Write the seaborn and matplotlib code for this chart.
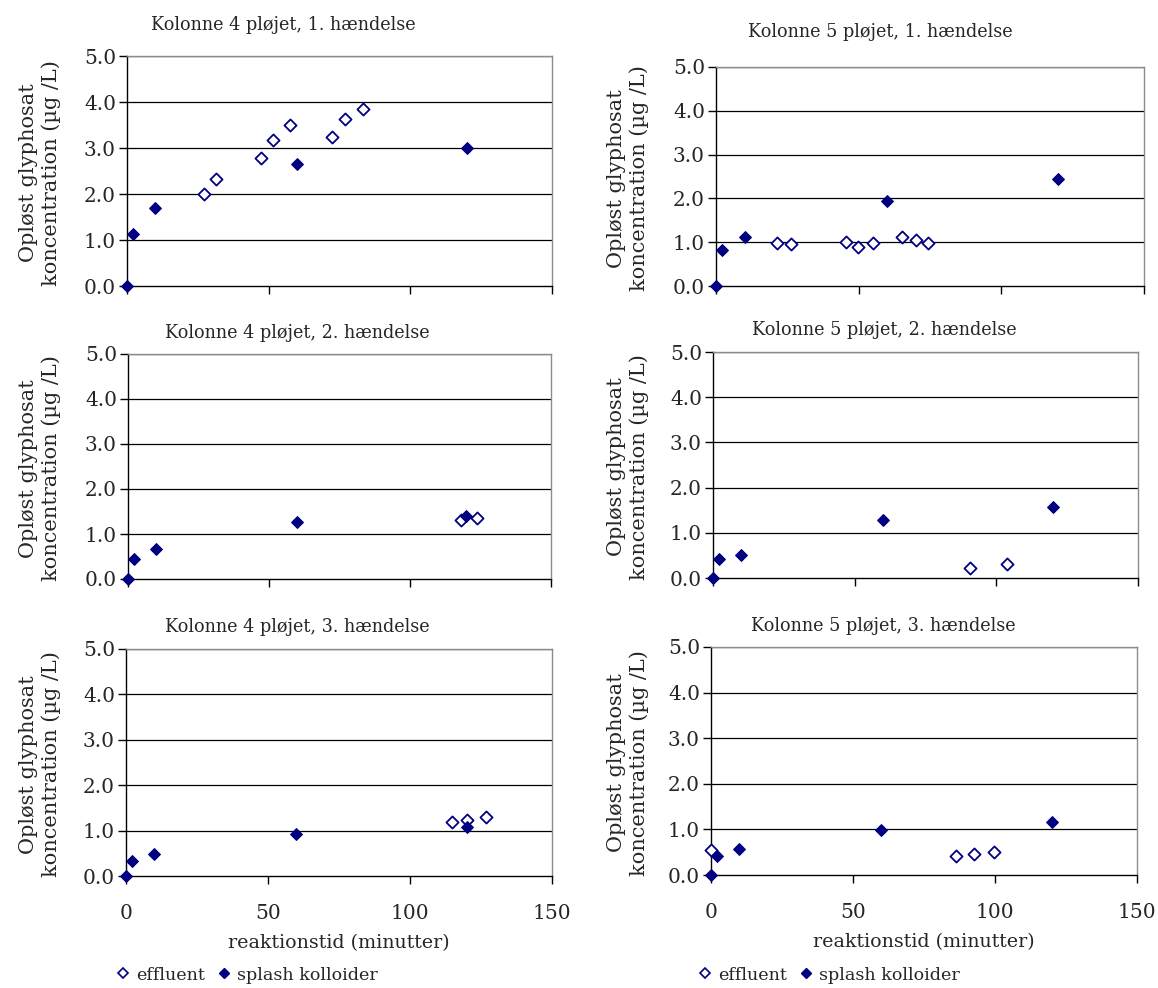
import matplotlib
matplotlib.use("Agg")
import matplotlib.pyplot as plt
from matplotlib.lines import Line2D
import numpy as np
import pandas as pd
import seaborn as sns

sns.set_style("white")
plt.rcParams["font.family"] = ["DejaVu Serif"]

NAVY = "#000080"

# --- data: reaction time (min) and dissolved glyphosate (µg/L) ---
k4_1_eff_t = [27.2, 31.5, 47.3, 51.7, 57.7, 72.4, 76.8, 83.3]
k4_1_eff_c = [1.99, 2.33, 2.78, 3.17, 3.51, 3.23, 3.63, 3.85]
k4_1_spl_t = [0, 2, 10, 60, 120]
k4_1_spl_c = [0.0, 1.14, 1.69, 2.66, 3.01]

k5_1_eff_t = [21.4, 26.3, 45.7, 49.6, 54.9, 65.2, 70.1, 74.4]
k5_1_eff_c = [0.99, 0.95, 1.01, 0.88, 0.99, 1.11, 1.06, 0.99]
k5_1_spl_t = [0, 2, 10, 60, 120]
k5_1_spl_c = [0.0, 0.83, 1.11, 1.94, 2.45]

k4_2_eff_t = [118.2, 123.8]
k4_2_eff_c = [1.31, 1.35]
k4_2_spl_t = [0, 2, 10, 60, 120]
k4_2_spl_c = [0.0, 0.45, 0.67, 1.26, 1.41]

k5_2_eff_t = [90.8, 103.6]
k5_2_eff_c = [0.23, 0.30]
k5_2_spl_t = [0, 2, 10, 60, 120]
k5_2_spl_c = [0.0, 0.41, 0.51, 1.28, 1.56]

k4_3_eff_t = [114.8, 120.2, 126.7]
k4_3_eff_c = [1.19, 1.23, 1.29]
k4_3_spl_t = [0, 2, 10, 60, 120]
k4_3_spl_c = [0.0, 0.34, 0.49, 0.92, 1.07]

k5_3_eff_t = [0, 86.4, 92.7, 99.5]
k5_3_eff_c = [0.55, 0.42, 0.46, 0.50]
k5_3_spl_t = [0, 2, 10, 60, 120]
k5_3_spl_c = [0.0, 0.42, 0.58, 0.98, 1.16]

titles = [
    "Kolonne 4 pløjet, 1. hændelse", "Kolonne 5 pløjet, 1. hændelse",
    "Kolonne 4 pløjet, 2. hændelse", "Kolonne 5 pløjet, 2. hændelse",
    "Kolonne 4 pløjet, 3. hændelse", "Kolonne 5 pløjet, 3. hændelse",
]
panels = [
    (k4_1_eff_t, k4_1_eff_c, k4_1_spl_t, k4_1_spl_c),
    (k5_1_eff_t, k5_1_eff_c, k5_1_spl_t, k5_1_spl_c),
    (k4_2_eff_t, k4_2_eff_c, k4_2_spl_t, k4_2_spl_c),
    (k5_2_eff_t, k5_2_eff_c, k5_2_spl_t, k5_2_spl_c),
    (k4_3_eff_t, k4_3_eff_c, k4_3_spl_t, k4_3_spl_c),
    (k5_3_eff_t, k5_3_eff_c, k5_3_spl_t, k5_3_spl_c),
]
x_ticks = [0, 50, 100, 150]
y_ticks = [0.0, 1.0, 2.0, 3.0, 4.0, 5.0]
y_label = "Opløst glyphosat\nkoncentration (µg /L)"
x_label = "reaktionstid (minutter)"
legend_labels = ["effluent", "splash kolloider"]

W, H = 1158, 988
fig = plt.figure(figsize=(W / 100, H / 100), dpi=100)

# panel boxes in pixels: left, right, top, bottom
boxes = [
    (127, 552, 56, 286), (716, 1144, 67, 286),
    (128, 551, 354, 579), (713, 1138, 352, 578),
    (126, 552, 649, 876), (711, 1137, 647, 875),
]
title_pos = [(283, 25), (880, 32), (297, 333), (884, 330), (297, 627), (883, 626)]
TICK_FS = 14.5
TITLE_FS = 12.7
TEXT_FS = 13.3

for i, ((l, r, t, b), (et, ec, st, sc)) in enumerate(zip(boxes, panels)):
    ax = fig.add_axes([l / W, 1 - b / H, (r - l) / W, (b - t) / H])
    eff = pd.DataFrame({"t": et, "c": ec})
    spl = pd.DataFrame({"t": st, "c": sc})
    sns.scatterplot(data=eff, x="t", y="c", ax=ax, marker="D", s=38,
                    facecolor="white", edgecolor=NAVY, linewidth=1.3,
                    zorder=4, clip_on=False)
    sns.scatterplot(data=spl, x="t", y="c", ax=ax, marker="D", s=36,
                    color=NAVY, edgecolor=NAVY, linewidth=0.8,
                    zorder=5, clip_on=False)
    ax.set_xlim(0, 150)
    ax.set_ylim(0, 5)
    ax.set_xticks(x_ticks)
    ax.set_yticks(y_ticks)
    ax.set_yticklabels([f"{v:.1f}" for v in y_ticks], fontsize=TICK_FS)
    ax.set_xlabel("")
    ax.set_ylabel("")
    for y in y_ticks[1:]:
        ax.axhline(y, color="black", lw=0.9, zorder=1)
    ax.spines["left"].set_color("black")
    ax.spines["bottom"].set_color("black")
    ax.spines["top"].set_color("#8c8c8c")
    ax.spines["right"].set_color("#8c8c8c")
    for s in ax.spines.values():
        s.set_linewidth(1.0)
    ax.tick_params(axis="both", direction="out", length=6, width=1.0,
                   color="black", left=True, bottom=True, pad=2)
    ax.tick_params(axis="x", pad=14)
    if i >= 4:
        ax.set_xticklabels([str(v) for v in x_ticks], fontsize=TICK_FS)
        ax.set_xlabel(x_label, fontsize=TEXT_FS + 0.4, labelpad=8)
    else:
        ax.set_xticklabels([])
    tx, ty = title_pos[i]
    fig.text(tx / W, 1 - ty / H, titles[i], ha="center", va="center",
             fontsize=TITLE_FS)
    ylx = 40 if i % 2 == 0 else 628
    fig.text(ylx / W, 1 - ((t + b) / 2 + 2) / H, y_label, rotation=90,
             ha="center", va="center", fontsize=15, multialignment="center",
             linespacing=1.15)

handles = [
    Line2D([], [], ls="none", marker="D", markersize=5, markerfacecolor="white",
           markeredgecolor=NAVY, markeredgewidth=1.2),
    Line2D([], [], ls="none", marker="D", markersize=5, markerfacecolor=NAVY,
           markeredgecolor=NAVY),
]
for lx in (116, 698):
    fig.legend(handles, legend_labels, loc="center left",
               bbox_to_anchor=(lx / W, 1 - 975 / H), ncol=2, frameon=False,
               fontsize=12.6, handlelength=0.8, handletextpad=0.35,
               columnspacing=0.7, borderaxespad=0, borderpad=0)

fig.savefig("out.png", dpi=100)
